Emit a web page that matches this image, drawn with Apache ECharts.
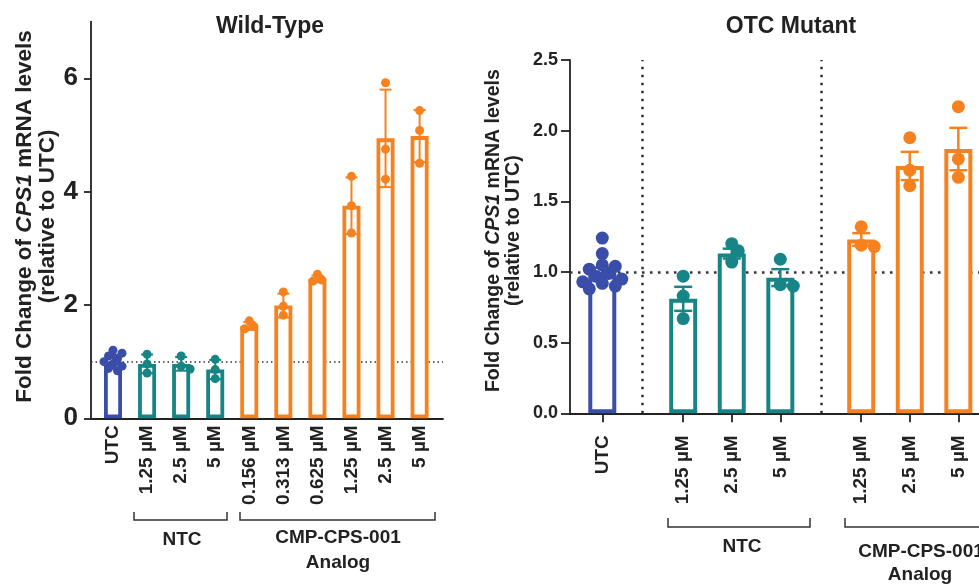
<!DOCTYPE html>
<html><head><meta charset="utf-8">
<script src="https://cdn.jsdelivr.net/npm/echarts@6/dist/echarts.min.js"></script>
<style>html,body{margin:0;padding:0;background:#fff}#c{width:979px;height:584px}</style>
</head><body><div id="c"></div>
<script>
// ---------- DATA ----------
const wtCategories = ['UTC','1.25 µM','2.5 µM','5 µM','0.156 µM','0.313 µM','0.625 µM','1.25 µM','2.5 µM','5 µM'];
const wtGroups = ['utc','ntc','ntc','ntc','cmp','cmp','cmp','cmp','cmp','cmp'];
const wtMeans = [1.0, 0.96, 0.96, 0.86, 1.63, 1.99, 2.46, 3.75, 4.94, 4.98];
const wtSD = [0.12, 0.165, 0.12, 0.17, 0.07, 0.21, 0.06, 0.50, 0.86, 0.46];
const wtPoints = [
  [1.20, 1.15, 1.10, 1.05, 1.00, 0.96, 0.92, 0.88, 0.84],
  [1.13, 0.96, 0.80],
  [1.10, 0.92, 0.87],
  [1.04, 0.86, 0.70],
  [1.72, 1.62, 1.58],
  [2.23, 1.98, 1.82],
  [2.54, 2.44, 2.42],
  [4.27, 3.75, 3.27],
  [5.92, 4.75, 4.22],
  [5.43, 5.08, 4.50]
];
const wtYTicks = [0, 2, 4, 6];

const otcCategories = ['UTC','1.25 µM','2.5 µM','5 µM','1.25 µM','2.5 µM','5 µM'];
const otcGroups = ['utc','ntc','ntc','ntc','cmp','cmp','cmp'];
const otcMeans = [1.0, 0.81, 1.13, 0.96, 1.23, 1.75, 1.87];
const otcSEM = [0.03, 0.085, 0.035, 0.06, 0.045, 0.10, 0.15];
const otcPoints = [
  [1.24, 1.13, 1.05, 1.04, 1.02, 0.99, 0.97, 0.95, 0.93, 0.92, 0.90, 0.88],
  [0.97, 0.83, 0.67],
  [1.20, 1.15, 1.07],
  [1.09, 0.91, 0.90],
  [1.32, 1.19, 1.18],
  [1.95, 1.72, 1.61],
  [2.17, 1.80, 1.67]
];

// ---------- STYLE / LAYOUT ----------
const COLORS = {utc:'#3A4DA8', ntc:'#178585', cmp:'#F5821F'};
const FONT = '"Liberation Sans", Arial, Helvetica, sans-serif';
const TXT = '#222';

const wtPos = wtCategories.map((_, i) => i);
const groupOrder = ['utc','ntc','cmp'];
const GAP = 5/3;
const otcPos = otcGroups.map((g, i) => i + groupOrder.indexOf(g) * (GAP - 1));
const otcSeps = [];
for (let i = 1; i < otcGroups.length; i++) {
  if (otcGroups[i] !== otcGroups[i-1]) otcSeps.push((otcPos[i] + otcPos[i-1]) / 2);
}

const G0 = {left:91, top:21.6, width:352, height:396.7};
const G1 = {left:570, top:60, right:0, height:353.3};
const X0 = {min:-0.646, max:9.687};
const Y0 = {min:0, max:7};
const X1 = {min:-0.665, max:7.759};
const Y1 = {min:0, max:2.5};

function beeswarm(values, pxPerUnit, size) {
  const order = values.map((v, i) => i).sort((a, b) => values[b] - values[a]);
  const placed = [];
  const offs = new Array(values.length).fill(0);
  const minD = size * 0.7, step = size * 0.5;
  order.forEach(i => {
    const py = -values[i] * pxPerUnit;
    const cands = [0];
    for (let k = 1; k < 8; k++) { cands.push(k * step, -k * step); }
    for (const c of cands) {
      if (placed.every(p => Math.hypot(p[0] - c, p[1] - py) >= minD)) {
        offs[i] = c; placed.push([c, py]); break;
      }
    }
  });
  return offs;
}

function buildPanel(groups, pos, means, errs, pts, pxPerUnit, ptSize, barBorder) {
  const barData = means.map((m, i) => ({
    value: [pos[i], m],
    itemStyle: {color: '#fff', borderColor: COLORS[groups[i]], borderWidth: barBorder, opacity: 1}
  }));
  const errData = means.map((m, i) => ({
    value: [pos[i], m - errs[i], m + errs[i]],
    itemStyle: {color: COLORS[groups[i]]}
  }));
  const ptData = [];
  pts.forEach((arr, i) => {
    const offs = beeswarm(arr, pxPerUnit, ptSize);
    arr.forEach((v, j) => ptData.push({
      value: [pos[i], v],
      symbolOffset: [offs[j], 0],
      itemStyle: {color: COLORS[groups[i]], opacity: 1}
    }));
  });
  return {barData, errData, ptData};
}

function errRender(capHalf, lw) {
  return function (params, api) {
    const x = api.value(0), lo = api.value(1), hi = api.value(2);
    const a = api.coord([x, lo]), b = api.coord([x, hi]);
    const col = api.visual('color');
    const st = {stroke: col, lineWidth: lw};
    return {type: 'group', children: [
      {type: 'line', shape: {x1: a[0], y1: a[1], x2: b[0], y2: b[1]}, style: st},
      {type: 'line', shape: {x1: a[0] - capHalf, y1: a[1], x2: a[0] + capHalf, y2: a[1]}, style: st},
      {type: 'line', shape: {x1: b[0] - capHalf, y1: b[1], x2: b[0] + capHalf, y2: b[1]}, style: st}
    ]};
  };
}

const p0 = buildPanel(wtGroups, wtPos, wtMeans, wtSD, wtPoints, G0.height / (Y0.max - Y0.min), 9, 3.8);
const p1 = buildPanel(otcGroups, otcPos, otcMeans, otcSEM, otcPoints, G1.height / (Y1.max - Y1.min), 13, 4);

function labelFor(pos, cats) {
  return v => { const i = pos.findIndex(p => Math.abs(p - v) < 1e-3); return i >= 0 ? cats[i] : ''; };
}

const axisLineStyle = {color: TXT, width: 1.8};
const yNameRich = (fs, pad) => ({
  fontSize: fs, fontWeight: 'bold', fontFamily: FONT, color: TXT, lineHeight: fs + 0.5,
  padding: [0, 0, 0, pad],
  rich: {i: {fontStyle: 'italic', fontWeight: 'bold', fontSize: fs, fontFamily: FONT, color: TXT, lineHeight: fs + 0.5}}
});
const yName = 'Fold Change of {i|CPS1} mRNA levels\n(relative to UTC)';

const dotted0 = {type: [1.5, 3], color: '#333', width: 1.5};
const dotted1 = {type: [2.5, 5.5], color: '#333', width: 2.5};

const option = {
  animation: false,
  backgroundColor: '#fff',
  grid: [
    Object.assign({containLabel: false}, G0),
    Object.assign({containLabel: false}, G1)
  ],
  xAxis: [
    {type: 'value', gridIndex: 0, min: X0.min, max: X0.max,
      splitLine: {show: false},
      axisLine: {show: true, onZero: false, lineStyle: axisLineStyle},
      axisTick: {show: false},
      axisLabel: {customValues: wtPos, formatter: labelFor(wtPos, wtCategories), rotate: 90,
        fontSize: 19, fontWeight: 'bold', fontFamily: FONT, color: TXT, margin: 7}
    },
    {type: 'value', gridIndex: 1, min: X1.min, max: X1.max,
      splitLine: {show: false},
      axisLine: {show: true, onZero: false, lineStyle: axisLineStyle},
      axisTick: {show: true, customValues: otcPos, length: 9, lineStyle: axisLineStyle},
      axisLabel: {customValues: otcPos, formatter: labelFor(otcPos, otcCategories), rotate: 90,
        fontSize: 19, fontWeight: 'bold', fontFamily: FONT, color: TXT, margin: 22}
    }
  ],
  yAxis: [
    {type: 'value', gridIndex: 0, min: Y0.min, max: Y0.max,
      splitLine: {show: false},
      axisLine: {show: true, onZero: false, lineStyle: axisLineStyle},
      axisTick: {show: true, customValues: wtYTicks, length: 7, lineStyle: axisLineStyle},
      axisLabel: {customValues: wtYTicks, fontSize: 26, fontWeight: 'bold', fontFamily: FONT, color: TXT, margin: 13},
      name: yName, nameLocation: 'middle', nameGap: 32, nameMoveOverlap: false, nameTextStyle: yNameRich(22.5, 7)
    },
    {type: 'value', gridIndex: 1, min: Y1.min, max: Y1.max, interval: 0.5,
      splitLine: {show: false},
      axisLine: {show: true, onZero: false, lineStyle: axisLineStyle},
      axisTick: {show: true, length: 9, lineStyle: axisLineStyle},
      axisLabel: {formatter: v => v.toFixed(1), fontSize: 18, fontWeight: 'bold', fontFamily: FONT, color: TXT, margin: 12},
      name: yName, nameLocation: 'middle', nameGap: 46, nameMoveOverlap: false, nameTextStyle: yNameRich(19.5, 12)
    }
  ],
  series: [
    {type: 'bar', xAxisIndex: 0, yAxisIndex: 0, barWidth: 18, z: 2, data: p0.barData,
      markLine: {z: 1, silent: true, symbol: 'none', label: {show: false}, lineStyle: dotted0,
        emphasis: {disabled: true}, data: [{yAxis: 1}]}},
    {type: 'scatter', xAxisIndex: 0, yAxisIndex: 0, symbolSize: 9, z: 3, data: p0.ptData},
    {type: 'custom', xAxisIndex: 0, yAxisIndex: 0, z: 4, renderItem: errRender(6, 2),
      encode: {x: 0, y: [1, 2]}, data: p0.errData},

    {type: 'bar', xAxisIndex: 1, yAxisIndex: 1, barWidth: 28, z: 2, data: p1.barData,
      markLine: {z: 1, silent: true, symbol: 'none', label: {show: false}, lineStyle: dotted1,
        emphasis: {disabled: true},
        data: [{yAxis: 1}].concat(otcSeps.map(s => ({xAxis: s})))}},
    {type: 'scatter', xAxisIndex: 1, yAxisIndex: 1, symbolSize: 13, z: 3, data: p1.ptData},
    {type: 'custom', xAxisIndex: 1, yAxisIndex: 1, z: 4, renderItem: errRender(9, 2.5),
      encode: {x: 0, y: [1, 2]}, data: p1.errData}
  ],
  graphic: []
};

function txt(text, x, y, size) {
  return {type: 'text', x: x, y: y, silent: true,
    style: {text: text, fontSize: size, fontWeight: 'bold', fontFamily: FONT, fill: TXT,
      align: 'center', verticalAlign: 'middle'}};
}
function bracket(x1, x2, y, h) {
  return {type: 'polyline', silent: true,
    shape: {points: [[x1, y - h], [x1, y], [x2, y], [x2, y - h]]},
    style: {stroke: '#333', lineWidth: 1.5, fill: null}};
}
option.graphic = [
  txt('Wild-Type', 270, 27, 23),
  txt('OTC Mutant', 791, 27, 23),
  bracket(134, 227, 520, 8), bracket(240, 435, 520, 8),
  txt('NTC', 182, 540, 19), txt('CMP-CPS-001', 338, 538, 19), txt('Analog', 338, 563, 19),
  bracket(668, 810, 527, 9), bracket(845, 1000, 527, 9),
  txt('NTC', 742, 547, 19), txt('CMP-CPS-001', 921, 552, 19), txt('Analog', 920, 575, 19)
];

const chart = echarts.init(document.getElementById('c'), null, {renderer: 'canvas'});
chart.setOption(option);
</script></body></html>
